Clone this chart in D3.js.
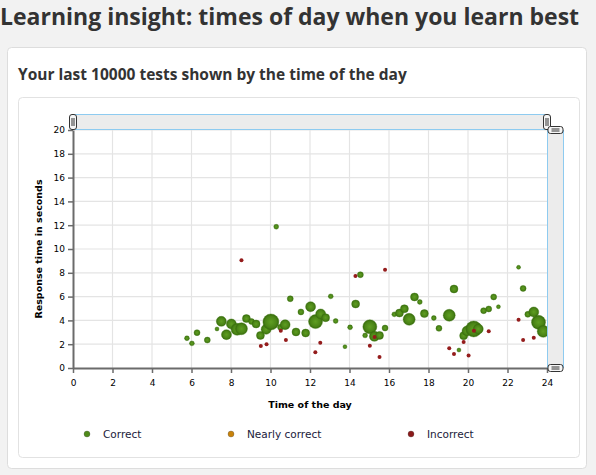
<!DOCTYPE html>
<html>
<head>
<meta charset="utf-8">
<script src="https://cdn.jsdelivr.net/npm/d3@7"></script>
<style>
  html, body { margin: 0; padding: 0; background: #f2f2f2; }
  svg { display: block; }
</style>
</head>
<body>
<svg id="chart"></svg>
<script>
// hour of day, response time (s), number of tests
const correctHour = [5.77, 6.02, 6.28, 6.8, 7.29, 7.51, 7.77, 8.02, 8.31, 8.53, 8.78, 9.04, 9.27, 9.49, 9.78, 10.02, 10.51, 10.74, 11.0, 11.29, 11.54, 11.78, 12.03, 12.28, 12.54, 12.79, 13.05, 13.3, 13.77, 14.03, 14.31, 14.55, 14.79, 15.03, 15.26, 15.52, 15.8, 16.27, 16.53, 16.78, 17.02, 17.29, 17.56, 17.79, 18.27, 18.53, 19.05, 19.29, 19.54, 19.78, 19.95, 20.29, 20.52, 20.79, 21.05, 21.3, 21.54, 22.56, 22.79, 23.03, 23.33, 23.57, 23.81, 10.29];
const correctTime = [2.5, 2.07, 2.97, 2.35, 3.28, 3.92, 2.8, 3.7, 3.25, 3.3, 4.15, 3.9, 3.7, 2.74, 3.25, 3.87, 3.42, 3.64, 5.82, 3.03, 4.71, 2.94, 5.15, 3.9, 4.54, 4.23, 6.02, 3.95, 1.79, 3.42, 5.38, 7.84, 2.74, 3.47, 2.66, 2.74, 3.36, 4.51, 4.62, 4.98, 4.09, 5.97, 5.55, 4.57, 4.2, 3.33, 4.43, 6.64, 1.51, 2.72, 3.11, 3.28, 3.28, 4.82, 4.96, 5.97, 5.15, 8.46, 6.69, 4.51, 4.71, 3.84, 3.08, 11.87];
const correctCount = [6, 6, 9, 9, 4, 25, 25, 25, 36, 36, 16, 9, 16, 16, 25, 64, 9, 25, 9, 16, 9, 16, 25, 49, 25, 16, 6, 6, 4, 6, 16, 9, 6, 49, 25, 16, 9, 6, 16, 16, 36, 16, 6, 16, 6, 9, 36, 16, 4, 16, 25, 64, 25, 9, 9, 9, 4, 4, 9, 9, 25, 49, 36, 6];

const nearlyHour = [];
const nearlyTime = [];

const incorrectHour = [8.53, 9.51, 9.8, 10.52, 10.78, 12.27, 12.52, 14.3, 15.03, 15.27, 15.52, 15.8, 19.05, 19.29, 19.78, 20.03, 20.3, 21.05, 22.56, 22.79, 23.33];
const incorrectTime = [9.05, 1.85, 1.99, 3.13, 2.35, 1.32, 2.13, 7.73, 1.88, 2.6, 0.92, 8.26, 1.65, 1.18, 2.18, 1.06, 3.13, 3.08, 4.06, 2.35, 2.55];

const xTicks = [0, 2, 4, 6, 8, 10, 12, 14, 16, 18, 20, 22, 24];
const yTicks = [0, 2, 4, 6, 8, 10, 12, 14, 16, 18, 20];
const legendLabels = ["Correct", "Nearly correct", "Incorrect"];
const legendColors = ["#4f8a1a", "#c8820a", "#8b1a1a"];

const W = 596, H = 475;
const svg = d3.select("#chart").attr("width", W).attr("height", H);

const defs = svg.append("defs");
const grad = defs.append("radialGradient").attr("id", "bubble");
grad.append("stop").attr("offset", "0%").attr("stop-color", "#5f9e22");
grad.append("stop").attr("offset", "70%").attr("stop-color", "#4a8416");
grad.append("stop").attr("offset", "100%").attr("stop-color", "#36690c");

// page title
svg.append("text")
  .attr("x", 0).attr("y", 25)
  .style("font-family", "'Open Sans', sans-serif")
  .style("font-weight", "bold")
  .style("font-size", "23px")
  .style("fill", "#333")
  .text("Learning insight: times of day when you learn best");

// outer card
svg.append("rect")
  .attr("x", 7.5).attr("y", 47.5).attr("width", 579).attr("height", 421)
  .attr("rx", 4).attr("fill", "#fff").attr("stroke", "#ddd");

svg.append("text")
  .attr("x", 18).attr("y", 80)
  .style("font-family", "'Open Sans', sans-serif")
  .style("font-weight", "bold")
  .style("font-size", "15.5px")
  .style("fill", "#333")
  .text("Your last 10000 tests shown by the time of the day");

// inner panel
svg.append("rect")
  .attr("x", 18.5).attr("y", 97.5).attr("width", 561).attr("height", 360)
  .attr("rx", 4).attr("fill", "#fff").attr("stroke", "#e2e2e2");

const plot = { left: 73, right: 547, top: 130, bottom: 368 };

const x = d3.scaleLinear().domain([0, 24]).range([plot.left, plot.right]);
const y = d3.scaleLinear().domain([0, 20]).range([plot.bottom, plot.top]);
const r = d3.scaleSqrt().domain([0, 64]).range([0, 8]);

// grid
const grid = svg.append("g").attr("stroke", "#e4e4e4").attr("stroke-width", 1.2);
grid.selectAll(".gx").data(xTicks.slice(1, -1)).join("line")
  .attr("x1", d => x(d)).attr("x2", d => x(d))
  .attr("y1", plot.top).attr("y2", plot.bottom);
grid.selectAll(".gy").data(yTicks.slice(1)).join("line")
  .attr("x1", plot.left).attr("x2", plot.right)
  .attr("y1", d => y(d)).attr("y2", d => y(d));

// axes
const yAxis = svg.append("g")
  .attr("transform", `translate(${plot.left},0)`)
  .call(d3.axisLeft(y).tickValues(yTicks).tickSize(5).tickSizeOuter(0).tickPadding(3));
const xAxis = svg.append("g")
  .attr("transform", `translate(0,${plot.bottom})`)
  .call(d3.axisBottom(x).tickValues(xTicks).tickSize(5).tickSizeOuter(0).tickPadding(7));

[xAxis, yAxis].forEach(a => {
  a.select(".domain").attr("stroke", "#6b6b6b").attr("stroke-width", 2);
  a.selectAll(".tick line").attr("stroke", "#6b6b6b").attr("stroke-width", 1.5);
  a.selectAll("text")
    .style("font-family", "'DejaVu Sans', Verdana, sans-serif")
    .style("font-size", "9px")
    .attr("fill", "#000");
});

svg.append("text")
  .attr("transform", `translate(42,${(plot.top + plot.bottom) / 2}) rotate(-90)`)
  .attr("text-anchor", "middle")
  .style("font-family", "'DejaVu Sans', Verdana, sans-serif")
  .style("font-weight", "bold")
  .style("font-size", "9.5px")
  .text("Response time in seconds");

svg.append("text")
  .attr("x", (plot.left + plot.right) / 2).attr("y", 408)
  .attr("text-anchor", "middle")
  .style("font-family", "'DejaVu Sans', Verdana, sans-serif")
  .style("font-weight", "bold")
  .style("font-size", "9.5px")
  .text("Time of the day");

// points
const correct = correctHour.map((h, i) => ({ h, t: correctTime[i], n: correctCount[i] }));
const nearly = nearlyHour.map((h, i) => ({ h, t: nearlyTime[i] }));
const incorrect = incorrectHour.map((h, i) => ({ h, t: incorrectTime[i] }));

svg.append("g").selectAll("circle")
  .data(correct).join("circle")
  .attr("cx", d => x(d.h)).attr("cy", d => y(d.t)).attr("r", d => r(d.n))
  .attr("fill", "url(#bubble)")
  .attr("stroke", "#3e7a10").attr("stroke-opacity", 0.5).attr("stroke-width", 0.8);

svg.append("g").selectAll("circle")
  .data(nearly).join("circle")
  .attr("cx", d => x(d.h)).attr("cy", d => y(d.t)).attr("r", 2)
  .attr("fill", legendColors[1]);

svg.append("g").selectAll("circle")
  .data(incorrect).join("circle")
  .attr("cx", d => x(d.h)).attr("cy", d => y(d.t)).attr("r", 2)
  .attr("fill", "#941c1c");

// scrollbars
const sb = svg.append("g");
sb.append("rect").attr("x", plot.left).attr("y", 114).attr("width", plot.right - plot.left).attr("height", 16)
  .attr("fill", "#ececec");
sb.append("line").attr("x1", plot.left).attr("x2", plot.right).attr("y1", 114.5).attr("y2", 114.5).attr("stroke", "#8ecbf0");
sb.append("line").attr("x1", plot.left).attr("x2", plot.right).attr("y1", 129.5).attr("y2", 129.5).attr("stroke", "#8ecbf0");
sb.append("rect").attr("x", plot.right).attr("y", plot.top).attr("width", 17).attr("height", plot.bottom - plot.top)
  .attr("fill", "#ececec");
sb.append("line").attr("x1", plot.right + 0.5).attr("x2", plot.right + 0.5).attr("y1", plot.top).attr("y2", plot.bottom).attr("stroke", "#8ecbf0");
sb.append("line").attr("x1", plot.right + 16.5).attr("x2", plot.right + 16.5).attr("y1", plot.top).attr("y2", plot.bottom).attr("stroke", "#8ecbf0");

function vHandle(cx) {
  const g = sb.append("g").attr("transform", `translate(${cx},122)`);
  g.append("rect").attr("x", -3.5).attr("y", -7.5).attr("width", 7).attr("height", 15).attr("rx", 2.5)
    .attr("fill", "#f6f6f6").attr("stroke", "#333");
  g.append("line").attr("x1", -1).attr("x2", -1).attr("y1", -4).attr("y2", 4).attr("stroke", "#333");
  g.append("line").attr("x1", 1).attr("x2", 1).attr("y1", -4).attr("y2", 4).attr("stroke", "#333");
}
function hHandle(cy) {
  const g = sb.append("g").attr("transform", `translate(${plot.right + 8.5},${cy})`);
  g.append("rect").attr("x", -7.5).attr("y", -3.5).attr("width", 15).attr("height", 7).attr("rx", 2.5)
    .attr("fill", "#f6f6f6").attr("stroke", "#333");
  g.append("line").attr("x1", -4).attr("x2", 4).attr("y1", -1).attr("y2", -1).attr("stroke", "#333");
  g.append("line").attr("x1", -4).attr("x2", 4).attr("y1", 1).attr("y2", 1).attr("stroke", "#333");
}
vHandle(plot.left);
vHandle(plot.right);
hHandle(plot.top);
hHandle(plot.bottom);

// legend
const legendX = [87, 231, 411];
const lg = svg.append("g").selectAll("g")
  .data(legendLabels).join("g")
  .attr("transform", (d, i) => `translate(${legendX[i]},434)`);
lg.append("circle").attr("r", 3).attr("fill", (d, i) => legendColors[i])
  .attr("stroke", "#444").attr("stroke-opacity", 0.5).attr("stroke-width", 0.6);
lg.append("text").attr("x", 16).attr("y", 4)
  .style("font-family", "'DejaVu Sans', Verdana, sans-serif")
  .style("font-size", "10.5px")
  .attr("fill", "#1a1a3a")
  .text(d => d);
</script>
</body>
</html>
